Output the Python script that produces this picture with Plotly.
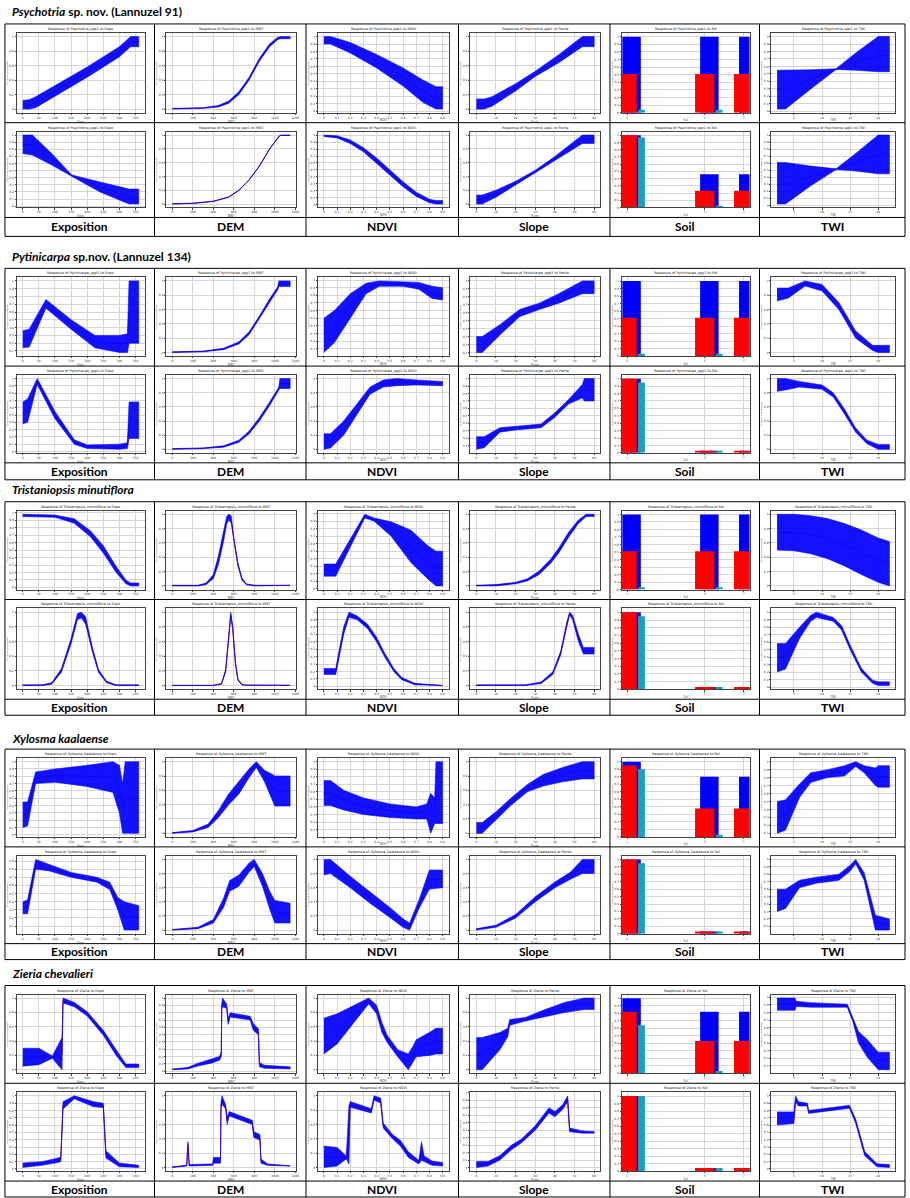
import plotly.graph_objects as go

W, H = 910, 1198
COL_X = [5, 155, 307, 460, 612, 762, 908]
BLOCK_TITLE_Y = [11, 256, 490, 739, 975]
BLOCK_ROW_Y = [(23, 122, 217, 236), (268, 366, 463, 480), (502, 600, 700, 716),
               (750, 848, 945, 961), (987, 1085, 1183, 1199)]
GENUS = ["Psychotria", "Pytinicarpa", "Tristaniopsis minutiflora", "Xylosma kaalaense", "Zieria chevalieri"]
REST = [" sp. nov. (Lannuzel 91)", " sp.nov. (Lannuzel 134)", "", "", ""]
SHORT = ["Psychotria_spp1", "Pytinicarpa_spp1", "Tristaniopsis_minutiflora", "Xylosma_kaalaense", "Zieria"]
VAR_LABELS = ["Exposition", "DEM", "NDVI", "Slope", "Soil", "TWI"]
VAR_CODES = ["Expo", "MNT", "NDVI", "Pente", "Sol", "TWI"]
SOIL_CATS = [1, 5, 7]
SOIL_TICKS = ["1", "5", "7"]

# ---- curve data: (x, lower, upper, mean) ----
PSY_EXPO_A = [(0,0.00,0.12,0.06),(20,0.00,0.13,0.06),(40,0.02,0.17,0.09),(100,0.17,0.32,0.245),(200,0.44,0.58,0.51),(300,0.72,0.86,0.79),(335,0.86,1.00,0.93),(360,0.86,1.00,0.93)]
PSY_DEM_A = [(0,0.00,0.01,0.005),(300,0.01,0.02,0.015),(450,0.03,0.05,0.04),(550,0.08,0.11,0.095),(650,0.20,0.24,0.22),(750,0.40,0.44,0.42),(850,0.66,0.70,0.68),(950,0.86,0.90,0.88),(1030,0.96,0.99,0.975),(1060,0.97,1.00,0.985),(1150,0.97,1.00,0.985)]
PSY_NDVI_A = [(0.00,0.90,1.00,0.95),(0.05,0.90,1.00,0.95),(0.20,0.78,0.92,0.85),(0.40,0.58,0.76,0.67),(0.60,0.34,0.58,0.46),(0.75,0.12,0.42,0.27),(0.85,0.03,0.33,0.17),(0.90,0.03,0.33,0.17)]
PSY_SLOPE_A = [(0,0.00,0.14,0.07),(4,0.00,0.14,0.07),(8,0.04,0.17,0.10),(20,0.25,0.35,0.30),(30,0.45,0.52,0.485),(42,0.64,0.75,0.70),(54,0.86,1.00,0.93),(60,0.86,1.00,0.93)]
PSY_TWI_A = [(2,0.03,0.55,0.30),(3.5,0.03,0.55,0.30),(8,0.30,0.555,0.43),(12.5,0.56,0.57,0.565),(16,0.55,0.78,0.66),(20,0.53,1.00,0.75),(22,0.53,1.00,0.75)]
PSY_EXPO_B = [(0,0.74,1.00,0.87),(30,0.72,1.00,0.86),(90,0.58,0.74,0.66),(152,0.42,0.44,0.43),(240,0.20,0.34,0.27),(330,0.03,0.24,0.13),(360,0.03,0.24,0.13)]
PSY_DEM_B = [(0,0.000,0.005,0.002),(200,0.008,0.013,0.01),(400,0.037,0.042,0.04),(550,0.097,0.103,0.10),(650,0.197,0.203,0.20),(750,0.347,0.353,0.35),(850,0.547,0.553,0.55),(950,0.797,0.803,0.80),(1040,0.977,0.983,0.98),(1060,0.995,1.00,0.998),(1150,0.995,1.00,0.998)]
PSY_NDVI_B = [(0.00,0.98,1.00,0.99),(0.10,0.96,0.99,0.975),(0.20,0.88,0.93,0.905),(0.30,0.76,0.82,0.79),(0.40,0.60,0.67,0.635),(0.50,0.43,0.50,0.465),(0.60,0.26,0.33,0.295),(0.70,0.12,0.18,0.15),(0.80,0.03,0.08,0.055),(0.85,0.01,0.06,0.035),(0.90,0.01,0.06,0.035)]
PSY_SLOPE_B = [(0,0.00,0.13,0.065),(3,0.00,0.13,0.065),(10,0.10,0.20,0.15),(20,0.27,0.33,0.30),(30,0.45,0.49,0.47),(40,0.63,0.69,0.66),(54,0.88,1.00,0.94),(60,0.88,1.00,0.94)]
PSY_TWI_B = [(2,0.02,0.61,0.30),(3.5,0.02,0.61,0.30),(8,0.28,0.56,0.41),(12.5,0.51,0.52,0.515),(16,0.49,0.74,0.62),(20,0.45,1.00,0.73),(22,0.45,1.00,0.73)]

PYT_EXPO_A = [(0,0.14,0.36,0.25),(20,0.15,0.38,0.26),(72,0.65,0.76,0.70),(150,0.38,0.50,0.44),(224,0.14,0.30,0.22),(300,0.08,0.30,0.19),(325,0.08,0.32,0.20),(330,0.20,1.00,0.60),(360,0.20,1.00,0.60)]
PYT_DEM_A = [(0,0.00,0.01,0.005),(300,0.01,0.02,0.015),(500,0.04,0.06,0.05),(650,0.12,0.15,0.135),(750,0.25,0.29,0.27),(850,0.46,0.51,0.485),(950,0.70,0.75,0.725),(1030,0.88,0.92,0.90),(1040,0.92,1.00,0.96),(1150,0.92,1.00,0.96)]
PYT_NDVI_A = [(0.00,0.05,0.50,0.28),(0.08,0.18,0.60,0.39),(0.20,0.50,0.82,0.66),(0.32,0.82,0.96,0.89),(0.42,0.92,0.99,0.955),(0.60,0.92,0.98,0.95),(0.72,0.88,0.97,0.925),(0.82,0.76,0.92,0.84),(0.90,0.74,0.90,0.82)]
PYT_SLOPE_A = [(0,0.10,0.30,0.20),(3,0.10,0.30,0.20),(12,0.32,0.45,0.385),(22,0.55,0.64,0.595),(32,0.64,0.72,0.68),(42,0.72,0.84,0.78),(54,0.84,1.00,0.92),(60,0.84,1.00,0.92)]
PYT_TWI_A = [(2,0.72,0.90,0.81),(4,0.76,0.90,0.83),(7,0.93,1.00,0.965),(10,0.86,0.95,0.905),(13,0.60,0.70,0.65),(16,0.20,0.30,0.25),(19,0.03,0.10,0.065),(20,0.00,0.10,0.05),(22,0.00,0.10,0.05)]
PYT_EXPO_B = [(0,0.38,0.68,0.53),(15,0.40,0.72,0.56),(45,0.92,1.00,0.96),(100,0.45,0.55,0.50),(160,0.10,0.16,0.13),(200,0.04,0.09,0.065),(300,0.03,0.10,0.065),(325,0.04,0.12,0.08),(330,0.18,0.68,0.43),(360,0.18,0.68,0.43)]
PYT_DEM_B = [(0,0.00,0.01,0.005),(300,0.01,0.02,0.015),(500,0.03,0.05,0.04),(650,0.10,0.13,0.115),(750,0.22,0.26,0.24),(850,0.40,0.45,0.425),(950,0.62,0.67,0.645),(1040,0.84,0.88,0.86),(1050,0.86,1.00,0.93),(1150,0.86,1.00,0.93)]
PYT_NDVI_B = [(0.00,0.00,0.22,0.11),(0.05,0.02,0.22,0.12),(0.15,0.20,0.40,0.30),(0.25,0.48,0.64,0.56),(0.35,0.78,0.88,0.83),(0.45,0.88,0.98,0.93),(0.55,0.90,1.00,0.95),(0.70,0.91,0.98,0.945),(0.90,0.90,0.96,0.93)]
PYT_SLOPE_B = [(0,0.05,0.22,0.135),(4,0.07,0.22,0.145),(12,0.28,0.34,0.31),(20,0.31,0.36,0.335),(33,0.34,0.39,0.365),(40,0.48,0.54,0.51),(47,0.66,0.72,0.69),(54,0.74,0.92,0.83),(55,0.70,1.00,0.85),(60,0.70,1.00,0.85)]
PYT_TWI_B = [(2,0.82,1.00,0.91),(3.5,0.84,1.00,0.92),(6,0.88,0.96,0.92),(10,0.85,0.91,0.88),(12,0.74,0.80,0.77),(14,0.50,0.57,0.535),(16,0.24,0.30,0.27),(18,0.08,0.13,0.105),(20,0.00,0.07,0.035),(22,0.00,0.07,0.035)]

TRI_EXPO_A = [(0,0.95,0.98,0.965),(100,0.94,0.97,0.955),(160,0.86,0.92,0.89),(210,0.68,0.76,0.72),(250,0.46,0.56,0.51),(290,0.20,0.28,0.24),(320,0.05,0.10,0.075),(335,0.02,0.06,0.04),(360,0.02,0.06,0.04)]
TRI_DEM_A = [(0,0.00,0.01,0.005),(250,0.00,0.01,0.005),(330,0.02,0.04,0.03),(400,0.10,0.16,0.13),(450,0.30,0.42,0.36),(500,0.62,0.76,0.69),(530,0.86,0.97,0.915),(550,0.92,1.00,0.96),(575,0.88,0.98,0.93),(600,0.62,0.68,0.65),(640,0.28,0.32,0.30),(680,0.08,0.11,0.095),(720,0.02,0.03,0.025),(800,0.00,0.01,0.005),(1150,0.00,0.01,0.005)]
TRI_NDVI_A = [(0.00,0.17,0.33,0.25),(0.09,0.17,0.33,0.25),(0.31,0.94,0.99,0.965),(0.38,0.90,0.94,0.92),(0.51,0.70,0.89,0.80),(0.66,0.35,0.78,0.56),(0.79,0.13,0.57,0.35),(0.85,0.04,0.50,0.27),(0.90,0.04,0.50,0.27)]
TRI_SLOPE_A = [(0,0.00,0.01,0.005),(10,0.00,0.02,0.01),(20,0.03,0.05,0.04),(26,0.07,0.10,0.085),(32,0.16,0.21,0.185),(38,0.32,0.38,0.35),(42,0.46,0.53,0.495),(47,0.68,0.75,0.715),(52,0.87,0.92,0.895),(56,0.97,1.00,0.985),(60,0.97,1.00,0.985)]
TRI_TWI_A = [(2,0.50,1.00,0.75),(5,0.49,1.00,0.745),(8,0.45,0.98,0.715),(11,0.38,0.94,0.66),(14,0.28,0.87,0.575),(17,0.16,0.78,0.47),(20,0.05,0.67,0.36),(22,0.00,0.62,0.31)]
TRI_EXPO_B = [(0,0.00,0.01,0.005),(60,0.00,0.01,0.005),(90,0.02,0.04,0.03),(120,0.18,0.23,0.205),(150,0.57,0.64,0.605),(170,0.90,0.98,0.94),(182,0.92,1.00,0.96),(195,0.84,0.94,0.89),(215,0.48,0.54,0.51),(235,0.18,0.22,0.20),(260,0.04,0.06,0.05),(290,0.00,0.01,0.005),(360,0.00,0.01,0.005)]
TRI_DEM_B = [(0,0.00,0.005,0.002),(400,0.00,0.005,0.002),(480,0.02,0.03,0.025),(520,0.18,0.22,0.20),(550,0.62,0.68,0.65),(570,0.95,1.00,0.975),(590,0.75,0.80,0.775),(615,0.30,0.34,0.32),(640,0.07,0.09,0.08),(680,0.01,0.02,0.015),(720,0.00,0.005,0.002),(1150,0.00,0.005,0.002)]
TRI_NDVI_B = [(0.00,0.16,0.24,0.20),(0.09,0.16,0.24,0.20),(0.15,0.70,0.80,0.75),(0.19,0.93,1.00,0.965),(0.25,0.90,0.95,0.925),(0.33,0.78,0.84,0.81),(0.40,0.60,0.66,0.63),(0.46,0.40,0.45,0.425),(0.53,0.20,0.24,0.22),(0.59,0.09,0.12,0.105),(0.69,0.02,0.04,0.03),(0.90,0.01,0.02,0.015)]
TRI_SLOPE_B = [(0,0.00,0.01,0.005),(25,0.00,0.01,0.005),(33,0.03,0.05,0.04),(39,0.15,0.19,0.17),(43,0.42,0.47,0.445),(46,0.80,0.86,0.83),(47.5,0.96,1.00,0.98),(49,0.90,0.96,0.93),(52,0.60,0.70,0.65),(54.5,0.43,0.52,0.475),(60,0.43,0.52,0.475)]
TRI_TWI_B = [(2,0.20,0.58,0.39),(3.5,0.24,0.58,0.41),(6,0.65,0.80,0.725),(8,0.88,0.96,0.92),(9,0.93,1.00,0.965),(12,0.88,0.93,0.905),(13.5,0.76,0.82,0.79),(15,0.50,0.56,0.53),(17,0.20,0.25,0.225),(19,0.05,0.09,0.07),(20,0.02,0.07,0.045),(22,0.02,0.07,0.045)]

XYL_EXPO_A = [(0,0.10,0.45,0.28),(15,0.12,0.45,0.29),(40,0.70,0.86,0.78),(100,0.72,0.90,0.81),(200,0.66,0.95,0.80),(280,0.58,1.00,0.79),(300,0.30,0.95,0.62),(310,0.02,0.70,0.36),(318,0.02,1.00,0.50),(360,0.02,1.00,0.50)]
XYL_DEM_A = [(0,0.00,0.01,0.005),(200,0.02,0.04,0.03),(350,0.08,0.13,0.105),(450,0.22,0.32,0.27),(550,0.40,0.55,0.475),(650,0.55,0.72,0.635),(750,0.78,0.90,0.84),(820,0.92,1.00,0.96),(900,0.72,0.88,0.80),(980,0.45,0.82,0.635),(1000,0.38,0.80,0.59),(1150,0.38,0.80,0.59)]
XYL_NDVI_A = [(0.00,0.42,0.75,0.585),(0.05,0.42,0.75,0.585),(0.15,0.36,0.62,0.49),(0.30,0.30,0.52,0.41),(0.50,0.26,0.44,0.35),(0.70,0.24,0.40,0.32),(0.78,0.24,0.44,0.34),(0.81,0.05,0.58,0.30),(0.84,0.18,0.52,0.35),(0.85,0.18,1.00,0.59),(0.90,0.18,1.00,0.59)]
XYL_SLOPE_A = [(0,0.00,0.15,0.075),(3,0.00,0.15,0.075),(10,0.18,0.30,0.24),(18,0.40,0.50,0.45),(26,0.58,0.68,0.63),(34,0.66,0.82,0.74),(44,0.72,0.92,0.82),(54,0.76,1.00,0.88),(60,0.76,1.00,0.88)]
XYL_TWI_A = [(2,0.10,0.50,0.30),(3.5,0.14,0.52,0.33),(6,0.55,0.72,0.635),(8,0.74,0.86,0.80),(11,0.80,0.90,0.85),(14,0.82,0.95,0.885),(16,0.94,1.00,0.97),(17.5,0.86,0.95,0.905),(19.5,0.70,0.92,0.81),(20,0.68,0.95,0.815),(22,0.68,0.95,0.815)]
XYL_EXPO_B = [(0,0.25,0.40,0.325),(15,0.25,0.42,0.335),(40,0.80,0.92,0.86),(80,0.78,0.86,0.82),(150,0.70,0.76,0.73),(230,0.64,0.70,0.67),(270,0.55,0.64,0.595),(295,0.30,0.45,0.375),(315,0.05,0.40,0.225),(360,0.05,0.35,0.20)]
XYL_DEM_B = [(0,0.00,0.01,0.005),(250,0.02,0.04,0.03),(400,0.10,0.15,0.125),(500,0.32,0.45,0.385),(560,0.55,0.70,0.625),(650,0.62,0.78,0.70),(750,0.82,0.95,0.885),(800,0.90,1.00,0.95),(880,0.62,0.80,0.71),(950,0.30,0.55,0.425),(1000,0.10,0.42,0.26),(1150,0.10,0.38,0.24)]
XYL_NDVI_B = [(0.00,0.78,1.00,0.89),(0.05,0.80,1.00,0.90),(0.20,0.60,0.76,0.68),(0.35,0.38,0.54,0.46),(0.50,0.18,0.32,0.25),(0.60,0.04,0.16,0.10),(0.65,0.00,0.10,0.05),(0.72,0.30,0.42,0.36),(0.80,0.58,0.85,0.715),(0.90,0.60,0.85,0.725)]
XYL_SLOPE_B = [(0,0.00,0.02,0.01),(10,0.04,0.07,0.055),(20,0.17,0.22,0.195),(30,0.40,0.47,0.435),(40,0.60,0.68,0.64),(48,0.72,0.82,0.77),(54,0.80,1.00,0.90),(60,0.80,1.00,0.90)]
XYL_TWI_B = [(2,0.30,0.60,0.45),(3.5,0.34,0.60,0.47),(6,0.62,0.72,0.67),(9,0.68,0.76,0.72),(13,0.72,0.80,0.76),(15,0.84,0.92,0.88),(16,0.94,1.00,0.97),(17.5,0.72,0.82,0.77),(19.5,0.05,0.25,0.15),(22,0.05,0.20,0.125)]

ZIE_EXPO_A = [(0,0.05,0.30,0.17),(50,0.07,0.30,0.18),(92,0.16,0.19,0.175),(122,0.00,0.45,0.22),(125,0.93,1.00,0.965),(160,0.88,0.94,0.91),(200,0.75,0.81,0.78),(250,0.48,0.55,0.515),(290,0.20,0.28,0.24),(320,0.03,0.08,0.055),(360,0.03,0.08,0.055)]
ZIE_DEM_A = [(0,0.02,0.03,0.025),(150,0.03,0.05,0.04),(250,0.07,0.11,0.09),(380,0.11,0.16,0.135),(460,0.15,0.20,0.175),(478,0.20,0.27,0.235),(482,0.85,0.92,0.885),(490,0.88,1.00,0.94),(530,0.86,0.92,0.89),(545,0.64,0.72,0.68),(565,0.74,0.80,0.77),(760,0.70,0.75,0.725),(790,0.56,0.65,0.605),(840,0.50,0.58,0.54),(850,0.06,0.12,0.09),(900,0.04,0.08,0.06),(1150,0.03,0.06,0.045)]
ZIE_NDVI_A = [(0.00,0.22,0.72,0.47),(0.10,0.36,0.78,0.57),(0.34,0.92,1.00,0.96),(0.40,0.78,0.90,0.84),(0.44,0.52,0.66,0.59),(0.48,0.38,0.48,0.43),(0.56,0.18,0.28,0.23),(0.64,0.00,0.22,0.11),(0.68,0.12,0.34,0.23),(0.70,0.18,0.42,0.30),(0.80,0.20,0.52,0.36),(0.85,0.22,0.58,0.40),(0.90,0.22,0.58,0.40)]
ZIE_SLOPE_A = [(0,0.00,0.45,0.22),(3,0.00,0.45,0.22),(12,0.28,0.52,0.40),(16,0.46,0.58,0.52),(17,0.62,0.70,0.66),(25,0.68,0.73,0.705),(35,0.74,0.84,0.79),(45,0.80,0.94,0.87),(55,0.84,1.00,0.92),(60,0.84,1.00,0.92)]
ZIE_TWI_A = [(2,0.83,0.99,0.91),(5.2,0.83,0.99,0.91),(5.4,0.88,0.95,0.915),(8,0.87,0.93,0.90),(14.5,0.87,0.91,0.89),(15.5,0.68,0.74,0.71),(16.5,0.40,0.55,0.475),(18,0.22,0.45,0.335),(20,0.05,0.28,0.165),(22,0.05,0.28,0.165)]
ZIE_EXPO_B = [(0,0.02,0.08,0.05),(60,0.05,0.10,0.075),(100,0.08,0.14,0.11),(118,0.10,0.16,0.13),(125,0.82,0.92,0.87),(160,0.96,1.00,0.98),(220,0.85,0.92,0.885),(250,0.84,0.90,0.87),(258,0.15,0.25,0.20),(300,0.03,0.08,0.055),(360,0.02,0.05,0.035)]
ZIE_DEM_B = [(0,0.00,0.01,0.005),(140,0.02,0.03,0.025),(152,0.30,0.36,0.33),(165,0.02,0.04,0.03),(395,0.03,0.05,0.04),(400,0.06,0.14,0.10),(470,0.06,0.14,0.10),(475,0.82,0.92,0.87),(485,0.88,1.00,0.94),(520,0.82,0.88,0.85),(535,0.60,0.70,0.65),(555,0.72,0.78,0.75),(780,0.60,0.66,0.63),(795,0.42,0.50,0.46),(855,0.38,0.46,0.42),(865,0.06,0.12,0.09),(930,0.03,0.05,0.04),(1150,0.02,0.03,0.025)]
ZIE_NDVI_B = [(0.00,0.00,0.30,0.15),(0.10,0.02,0.28,0.15),(0.17,0.12,0.16,0.14),(0.19,0.05,0.86,0.45),(0.20,0.84,0.92,0.88),(0.36,0.76,0.82,0.79),(0.38,0.94,1.00,0.97),(0.43,0.90,0.97,0.935),(0.45,0.55,0.62,0.585),(0.52,0.40,0.46,0.43),(0.58,0.30,0.38,0.34),(0.64,0.14,0.22,0.18),(0.72,0.05,0.10,0.075),(0.74,0.10,0.36,0.23),(0.76,0.08,0.16,0.12),(0.82,0.03,0.09,0.06),(0.90,0.02,0.07,0.045)]
ZIE_SLOPE_B = [(0,0.00,0.08,0.04),(6,0.02,0.08,0.05),(12,0.10,0.16,0.13),(18,0.24,0.30,0.27),(23,0.33,0.38,0.355),(30,0.50,0.56,0.53),(37,0.73,0.80,0.765),(40,0.68,0.75,0.715),(44,0.78,0.84,0.81),(46.5,0.88,0.96,0.92),(47.5,0.48,0.53,0.505),(54,0.46,0.49,0.475),(60,0.46,0.48,0.47)]
ZIE_TWI_B = [(2,0.60,0.78,0.69),(5,0.62,0.78,0.70),(5.3,0.92,1.00,0.96),(5.8,0.86,0.92,0.89),(7.4,0.86,0.90,0.88),(7.6,0.76,0.80,0.78),(14.9,0.83,0.87,0.85),(16,0.62,0.68,0.65),(17.6,0.18,0.24,0.21),(19.8,0.03,0.07,0.05),(22,0.02,0.06,0.04)]

# ---- soil bars: per category (upper, mean, lower) ----
PSY_SOIL_A = [(1.00,0.51,0.04),(1.00,0.51,0.04),(1.00,0.51,0.00)]
PSY_SOIL_B = [(1.00,1.00,0.97),(0.46,0.23,0.02),(0.46,0.23,0.00)]
PYT_SOIL_A = [(1.00,0.51,0.03),(1.00,0.51,0.03),(1.00,0.51,0.00)]
PYT_SOIL_B = [(1.00,1.00,0.95),(0.03,0.03,0.03),(0.03,0.03,0.00)]
TRI_SOIL_A = [(1.00,0.51,0.03),(1.00,0.51,0.03),(1.00,0.51,0.00)]
TRI_SOIL_B = [(1.00,1.00,0.95),(0.03,0.03,0.03),(0.03,0.03,0.00)]
XYL_SOIL_A = [(1.00,0.95,0.90),(0.80,0.38,0.03),(0.80,0.38,0.00)]
XYL_SOIL_B = [(1.00,1.00,0.95),(0.03,0.03,0.03),(0.03,0.03,0.00)]
ZIE_SOIL_A = [(1.00,0.82,0.64),(0.82,0.43,0.03),(0.82,0.43,0.00)]
ZIE_SOIL_B = [(1.00,1.00,1.00),(0.04,0.04,0.04),(0.04,0.04,0.00)]

CURVES = [
    [[PSY_EXPO_A, PSY_DEM_A, PSY_NDVI_A, PSY_SLOPE_A, PSY_SOIL_A, PSY_TWI_A],
     [PSY_EXPO_B, PSY_DEM_B, PSY_NDVI_B, PSY_SLOPE_B, PSY_SOIL_B, PSY_TWI_B]],
    [[PYT_EXPO_A, PYT_DEM_A, PYT_NDVI_A, PYT_SLOPE_A, PYT_SOIL_A, PYT_TWI_A],
     [PYT_EXPO_B, PYT_DEM_B, PYT_NDVI_B, PYT_SLOPE_B, PYT_SOIL_B, PYT_TWI_B]],
    [[TRI_EXPO_A, TRI_DEM_A, TRI_NDVI_A, TRI_SLOPE_A, TRI_SOIL_A, TRI_TWI_A],
     [TRI_EXPO_B, TRI_DEM_B, TRI_NDVI_B, TRI_SLOPE_B, TRI_SOIL_B, TRI_TWI_B]],
    [[XYL_EXPO_A, XYL_DEM_A, XYL_NDVI_A, XYL_SLOPE_A, XYL_SOIL_A, XYL_TWI_A],
     [XYL_EXPO_B, XYL_DEM_B, XYL_NDVI_B, XYL_SLOPE_B, XYL_SOIL_B, XYL_TWI_B]],
    [[ZIE_EXPO_A, ZIE_DEM_A, ZIE_NDVI_A, ZIE_SLOPE_A, ZIE_SOIL_A, ZIE_TWI_A],
     [ZIE_EXPO_B, ZIE_DEM_B, ZIE_NDVI_B, ZIE_SLOPE_B, ZIE_SOIL_B, ZIE_TWI_B]],
]

BLUE = "rgba(0,0,255,0.93)"
RED = "#ff2020"
CYAN = "#1a9fc2"
TINY = dict(size=3, color="#333", family="DejaVu Sans")

AX = dict(showline=True, linecolor="#444", linewidth=0.6, mirror=True,
          showgrid=True, gridcolor="#d6d6d6", gridwidth=0.5, zeroline=False,
          ticks="outside", ticklen=1.5, tickwidth=0.4, tickcolor="#444",
          tickfont=TINY, nticks=11)

fig = go.Figure()
layout = dict(width=W, height=H, margin=dict(l=0, r=0, t=0, b=0),
              paper_bgcolor="white", plot_bgcolor="white", showlegend=False,
              barmode="overlay", shapes=[], annotations=[])


def px(x):
    return x / W


def py(y):
    return 1 - y / H


n = 0
for b in range(5):
    top, mid, labtop, bottom = BLOCK_ROW_Y[b]
    rows = [(top, mid), (mid, labtop)]
    for r in range(2):
        ct, cb = rows[r]
        for c in range(6):
            n += 1
            xn = "x" if n == 1 else f"x{n}"
            yn = "y" if n == 1 else f"y{n}"
            cl, cr = COL_X[c], COL_X[c + 1]
            xd = [px(cl + 12), px(cr - 10)]
            yd = [py(cb - 10), py(ct + 9)]
            data = CURVES[b][r][c]
            xa = dict(AX, domain=xd, anchor=yn,
                      title=dict(text=VAR_CODES[c], font=dict(size=3, color="#333"), standoff=0))
            ya = dict(AX, domain=yd, anchor=xn,
                      title=dict(text="Predicted probability", font=dict(size=2.5, color="#333"), standoff=1))
            if c == 4:
                ups = [d[0] for d in data]
                means = [d[1] for d in data]
                los = [d[2] for d in data]
                fig.add_trace(go.Bar(x=SOIL_CATS, y=ups, width=0.95, offset=-0.24,
                                     marker=dict(color="#0000ff", line=dict(width=0)),
                                     xaxis=xn, yaxis=yn, hoverinfo="skip"))
                fig.add_trace(go.Bar(x=SOIL_CATS, y=means, width=1.0, offset=-0.5,
                                     marker=dict(color="#ff0000", line=dict(width=0)),
                                     xaxis=xn, yaxis=yn, hoverinfo="skip"))
                fig.add_trace(go.Bar(x=SOIL_CATS, y=los, width=0.36, offset=0.56,
                                     marker=dict(color=CYAN, line=dict(width=0)),
                                     xaxis=xn, yaxis=yn, hoverinfo="skip"))
                xa.update(range=[0.74, 7.3], tickvals=SOIL_CATS, ticktext=SOIL_TICKS)
                ya.update(range=[0, max(ups) * 1.05])
            else:
                xs = [d[0] for d in data]
                lo = [d[1] for d in data]
                hi = [d[2] for d in data]
                mn = [d[3] for d in data]
                fig.add_trace(go.Scatter(x=xs, y=mn, mode="lines",
                                         line=dict(color=RED, width=1.0),
                                         xaxis=xn, yaxis=yn, hoverinfo="skip"))
                fig.add_trace(go.Scatter(x=xs + xs[::-1], y=hi + lo[::-1], mode="lines",
                                         fill="toself", fillcolor=BLUE,
                                         line=dict(color=BLUE, width=0.6),
                                         xaxis=xn, yaxis=yn, hoverinfo="skip"))
                x0, x1 = min(xs), max(xs)
                y0, y1 = min(lo), max(hi)
                xa.update(range=[x0 - 0.05 * (x1 - x0), x1 + 0.05 * (x1 - x0)])
                ya.update(range=[y0 - 0.05 * (y1 - y0), y1 + 0.05 * (y1 - y0)])
            layout["xaxis" if n == 1 else f"xaxis{n}"] = xa
            layout["yaxis" if n == 1 else f"yaxis{n}"] = ya
            layout["annotations"].append(dict(
                text=f"Response of {SHORT[b]} to {VAR_CODES[c]}", x=(xd[0] + xd[1]) / 2,
                y=py(ct + 5), xref="paper", yref="paper", showarrow=False,
                font=dict(size=3.5, color="#222", family="DejaVu Sans"),
                xanchor="center", yanchor="middle"))

    # species title
    layout["annotations"].append(dict(
        text=f"<b><i>{GENUS[b]}</i>{REST[b]}</b>", x=px(10), y=py(BLOCK_TITLE_Y[b]),
        xref="paper", yref="paper", showarrow=False, xanchor="left", yanchor="middle",
        font=dict(size=12, color="black", family="Lato")))
    # label row
    for c in range(6):
        layout["annotations"].append(dict(
            text=f"<b>{VAR_LABELS[c]}</b>", x=px((COL_X[c] + COL_X[c + 1]) / 2),
            y=py((labtop + bottom) / 2), xref="paper", yref="paper", showarrow=False,
            xanchor="center", yanchor="middle", font=dict(size=12, color="black", family="Lato")))
    # table lines
    for yy in (top, mid, labtop, bottom):
        layout["shapes"].append(dict(type="line", xref="paper", yref="paper",
                                     x0=px(COL_X[0]), x1=px(COL_X[-1]), y0=py(yy), y1=py(yy),
                                     line=dict(color="black", width=1)))
    for xx in COL_X:
        layout["shapes"].append(dict(type="line", xref="paper", yref="paper",
                                     x0=px(xx), x1=px(xx), y0=py(top), y1=py(bottom),
                                     line=dict(color="black", width=1)))

fig.update_layout(**layout)
fig.write_html("out.html", config={"displayModeBar": False},
               post_script="document.body.style.margin='0px';document.body.style.overflow='hidden';")
